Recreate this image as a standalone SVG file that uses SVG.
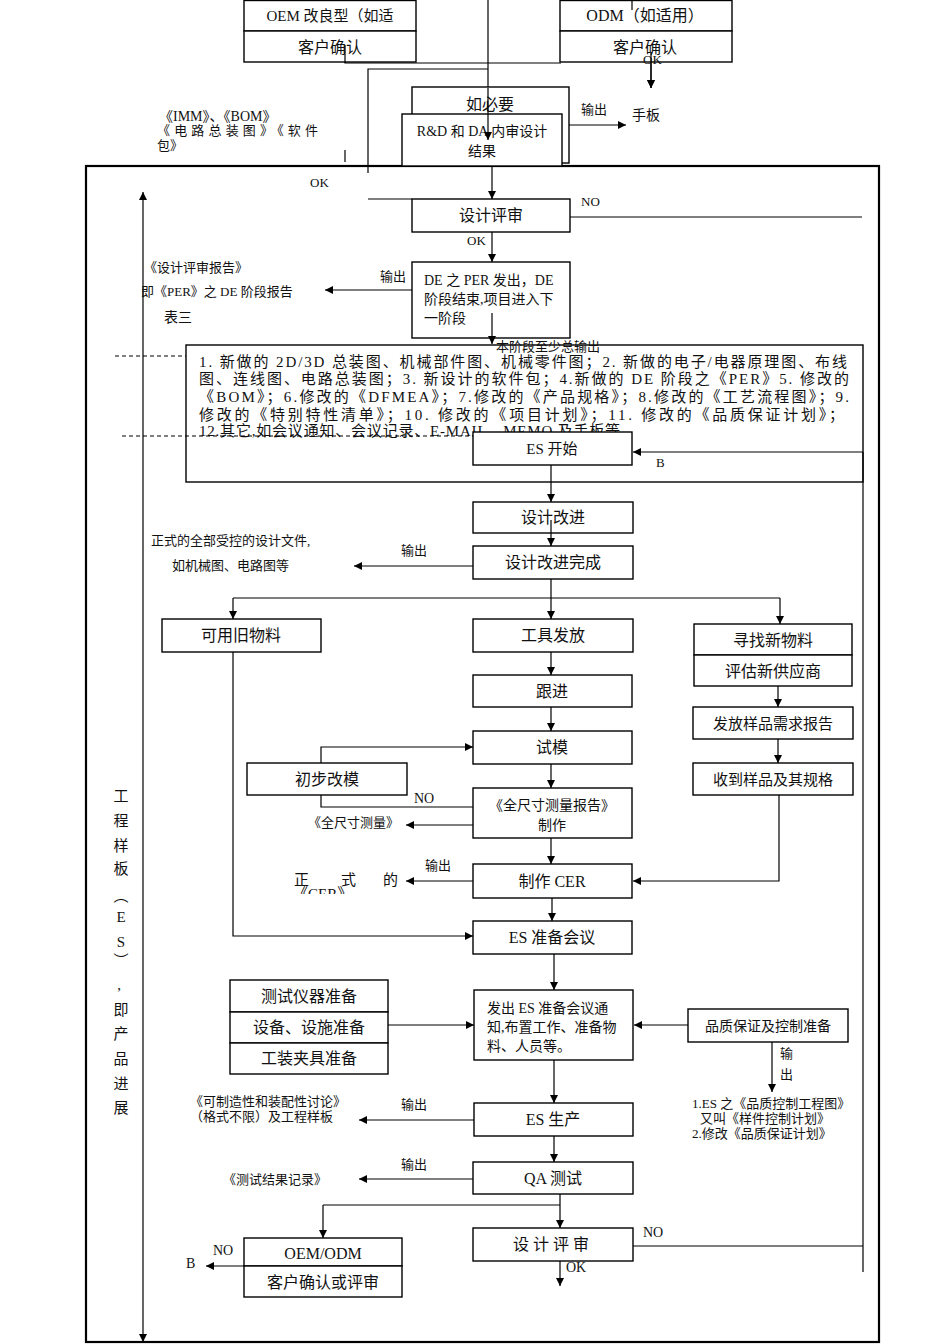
<svg xmlns="http://www.w3.org/2000/svg" width="950" height="1344" viewBox="0 0 950 1344">
<style>
.box{fill:#fff;stroke:#000;stroke-width:1.4}
.nf{fill:none;stroke:#000;stroke-width:1.4}
.ln{fill:none;stroke:#000;stroke-width:1.2}
.a{marker-end:url(#ah)}
.dash{fill:none;stroke:#000;stroke-width:1.1;stroke-dasharray:4 3}
text{font-family:"Liberation Serif","Noto Sans CJK SC",serif;fill:#111;font-size:15px}
.c{text-anchor:middle}
.s{font-size:13px}
.m{font-size:14px}
.l{font-size:16px}
</style>
<defs>
<marker id="ah" viewBox="0 0 10 10" refX="10" refY="5" markerWidth="9" markerHeight="8" markerUnits="userSpaceOnUse" orient="auto"><path d="M0,0 L10,5 L0,10 z" fill="#000"/></marker>
<marker id="ahs" viewBox="0 0 10 10" refX="10" refY="5" markerWidth="9" markerHeight="8" markerUnits="userSpaceOnUse" orient="auto-start-reverse"><path d="M0,0 L10,5 L0,10 z" fill="#000"/></marker>
<clipPath id="cerclip"><rect x="280" y="880" width="130" height="14"/></clipPath>
</defs>

<rect x="86" y="166" width="793" height="1176" fill="none" stroke="#000" stroke-width="2.2"/>

<g id="connectors">
<path class="ln a" d="M488,0 V140"/>
<path class="ln" d="M345,45 V63 H561"/>
<path class="ln" d="M632,0 V10"/>
<path class="ln a" d="M651,52 V88"/>
<path class="ln" d="M488,69 H368 V173"/>
<path class="ln" d="M345,150 V162"/>
<path class="ln a" d="M562,125 H626"/>
<path class="ln a" d="M492,166 V199"/>
<path class="ln" d="M368,199 H412"/>
<path class="ln" d="M570,217 H862"/>
<path class="ln a" d="M492,232 V262"/>
<path class="ln a" d="M412,290 H325"/>
<path class="dash" d="M115,356 H186"/>
<path class="ln" d="M863,452 V1272"/>
<path class="ln a" d="M863,452 H633"/>
<path class="ln a" d="M551,465 V502"/>
<path class="ln a" d="M473,566 H354"/>
<path class="ln" d="M551,579 V598 M233,598 H780"/>
<path class="ln a" d="M233,598 V619"/>
<path class="ln a" d="M551,598 V619"/>
<path class="ln a" d="M780,598 V624"/>
<path class="ln a" d="M551,652 V675"/>
<path class="ln a" d="M551,707 V731"/>
<path class="ln a" d="M551,764 V788"/>
<path class="ln a" d="M321,763 V747 H473"/>
<path class="ln" d="M473,807 H321 V795"/>
<path class="ln a" d="M473,825 H406"/>
<path class="ln a" d="M551,838 V864"/>
<path class="ln a" d="M473,881 H406"/>
<path class="ln a" d="M778,686 V707"/>
<path class="ln a" d="M778,739 V763"/>
<path class="ln a" d="M779,795 V881 H633"/>
<path class="ln a" d="M233,652 V936 H473"/>
<path class="ln a" d="M552,898 V921"/>
<path class="ln a" d="M554,954 V990"/>
<path class="ln a" d="M388,1025 H474"/>
<path class="ln a" d="M688,1025 H634"/>
<path class="ln a" d="M772,1042 V1092"/>
<path class="ln a" d="M554,1060 V1103"/>
<path class="ln a" d="M474,1120 H359"/>
<path class="ln a" d="M554,1136 V1162"/>
<path class="ln a" d="M473,1179 H359"/>
<path class="ln" d="M560,1194 V1205 M323,1205 H560"/>
<path class="ln a" d="M323,1205 V1238"/>
<path class="ln a" d="M560,1205 V1228"/>
<path class="ln" d="M633,1246 H863"/>
<path class="ln a" d="M560,1261 V1286"/>
<path class="ln a" d="M244,1266 H206"/>
<path class="ln" d="M143,1342 V192" marker-start="url(#ahs)" marker-end="url(#ah)"/>
</g>

<g id="oem">
<rect class="box" x="244" y="0.5" width="172" height="30.5"/>
<rect class="box" x="244" y="31" width="172" height="31"/>
<text class="c" x="330" y="21">OEM 改良型（如适</text>
<text class="c l" x="330" y="53">客户确认</text>
</g>
<path class="ln" d="M345,45 V63"/>

<g id="odm">
<rect class="box" x="560" y="0.5" width="172" height="30.5"/>
<rect class="box" x="560" y="31" width="172" height="31"/>
<text class="c l" x="645" y="21">ODM（如适用）</text>
<text class="c l" x="645" y="53">客户确认</text>
</g>
<path class="ln" d="M632,0 V10"/>
<path class="ln a" d="M651,52 V88"/>
<text class="s" x="643" y="64">OK</text>

<g id="rd">
<rect class="box" x="412" y="87" width="157" height="76"/>
<text class="c l" x="490" y="110">如必要</text>
<rect class="box" x="402" y="114" width="160" height="52"/>
<text class="c m" x="482" y="136">R&amp;D 和 DA 内审设计</text>
<text class="c m" x="482" y="156">结果</text>
</g>
<path class="ln a" d="M488,88 V140"/>

<g id="labels-top">
<text class="m" x="159" y="121">《IMM》、《BOM》</text>
<text class="s" x="157" y="135" textLength="161" lengthAdjust="spacing">《电路总装图》《软件</text>
<text class="s" x="157" y="150">包》</text>
<text class="s" x="581" y="114">输出</text>
<text class="m" x="632" y="120">手板</text>
<text class="s" x="310" y="187">OK</text>
<text class="s" x="581" y="206">NO</text>
<text class="s" x="467" y="245">OK</text>
</g>

<g id="review1">
<rect class="box" x="412" y="199" width="158" height="33"/>
<text class="c l" x="491" y="221">设计评审</text>
</g>

<g id="de">
<rect class="box" x="412" y="262" width="158" height="76"/>
<text class="m" x="424" y="285">DE 之 PER 发出，DE</text>
<text class="m" x="424" y="304">阶段结束,项目进入下</text>
<text class="m" x="424" y="323">一阶段</text>
</g>
<path class="ln a" d="M492,313 V344"/>

<g id="de-out">
<text class="s" x="144" y="272">《设计评审报告》</text>
<text class="s" x="141" y="296">即《PER》之 DE 阶段报告</text>
<text class="m" x="164" y="322">表三</text>
<text class="s" x="380" y="281">输出</text>
</g>

<g id="summary">
<rect class="nf" x="186" y="345" width="677" height="137"/>
<text class="s" x="496" y="351">本阶段至少总输出</text>
<text x="199" y="367" textLength="648" lengthAdjust="spacing">1. 新做的 2D/3D 总装图、机械部件图、机械零件图；2.  新做的电子/电器原理图、布线</text>
<text x="199" y="384" textLength="650" lengthAdjust="spacing">图、连线图、电路总装图；3.  新设计的软件包；4.新做的 DE 阶段之《PER》5.  修改的</text>
<text x="199" y="402" textLength="650" lengthAdjust="spacing">《BOM》；6.修改的《DFMEA》；7.修改的《产品规格》；8.修改的《工艺流程图》；9.</text>
<text x="199" y="420" textLength="645" lengthAdjust="spacing">修改的《特别特性清单》；10.  修改的《项目计划》；11.  修改的《品质保证计划》；</text>
<text x="199" y="436" textLength="421" lengthAdjust="spacing">12.其它,如会议通知、会议记录、E-MAIL、MEMO 及手板等</text>
</g>
<path class="dash" d="M122,436 H473"/>

<g id="es-start">
<rect class="box" x="473" y="432" width="159" height="33"/>
<text class="c" x="552" y="454">ES 开始</text>
<text class="s" x="656" y="467">B</text>
</g>

<g id="improve">
<rect class="box" x="473" y="502" width="160" height="31"/>
<text class="c l" x="553" y="523">设计改进</text>
</g>
<path class="ln a" d="M551,520 V546"/>

<g id="improve-done">
<rect class="box" x="473" y="546" width="160" height="33"/>
<text class="c l" x="553" y="568">设计改进完成</text>
<text class="s" x="401" y="555">输出</text>
<text class="s" x="151" y="545">正式的全部受控的设计文件,</text>
<text class="s" x="172" y="570">如机械图、电路图等</text>
</g>

<g id="old-mat">
<rect class="box" x="162" y="619" width="159" height="33"/>
<text class="c l" x="241" y="641">可用旧物料</text>
</g>

<g id="tool">
<rect class="box" x="473" y="619" width="160" height="33"/>
<text class="c l" x="553" y="641">工具发放</text>
</g>

<g id="new-mat">
<rect class="box" x="694" y="624" width="158" height="31"/>
<rect class="box" x="694" y="655" width="158" height="31"/>
<text class="c l" x="773" y="646">寻找新物料</text>
<text class="c l" x="773" y="677">评估新供应商</text>
</g>

<g id="follow">
<rect class="box" x="473" y="675" width="159" height="32"/>
<text class="c l" x="552" y="697">跟进</text>
</g>

<g id="trial">
<rect class="box" x="473" y="731" width="159" height="33"/>
<text class="c l" x="552" y="753">试模</text>
</g>

<g id="prelim">
<rect class="box" x="247" y="763" width="160" height="32"/>
<text class="c l" x="327" y="785">初步改模</text>
<text class="m" x="414" y="803">NO</text>
</g>

<g id="measure">
<rect class="box" x="473" y="788" width="159" height="50"/>
<text class="c m" x="552" y="810">《全尺寸测量报告》</text>
<text class="c m" x="552" y="830">制作</text>
<text class="s" x="308" y="827">《全尺寸测量》</text>
</g>

<g id="sample-req">
<rect class="box" x="693" y="707" width="160" height="32"/>
<text class="c" x="773" y="729">发放样品需求报告</text>
</g>

<g id="sample-recv">
<rect class="box" x="693" y="763" width="160" height="32"/>
<text class="c" x="773" y="785">收到样品及其规格</text>
</g>

<g id="cer">
<rect class="box" x="473" y="864" width="159" height="34"/>
<text class="c l" x="552" y="887">制作 CER</text>
<text class="s" x="425" y="870">输出</text>
<text x="294" y="885">正</text>
<text x="341" y="885">式</text>
<text x="383" y="885">的</text>
<text x="293" y="899" clip-path="url(#cerclip)">《CER》</text>
</g>

<g id="es-meet">
<rect class="box" x="473" y="921" width="159" height="33"/>
<text class="c l" x="552" y="943">ES 准备会议</text>
</g>

<g id="prep">
<rect class="box" x="230" y="980" width="158" height="32"/>
<rect class="box" x="230" y="1012" width="158" height="31"/>
<rect class="box" x="230" y="1043" width="158" height="31"/>
<text class="c l" x="309" y="1002">测试仪器准备</text>
<text class="c l" x="309" y="1033">设备、设施准备</text>
<text class="c l" x="309" y="1064">工装夹具准备</text>
</g>

<g id="notice">
<rect class="box" x="474" y="990" width="159" height="70"/>
<text class="m" x="487" y="1013">发出 ES 准备会议通</text>
<text class="m" x="487" y="1032">知,布置工作、准备物</text>
<text class="m" x="487" y="1051">料、人员等。</text>
</g>

<g id="qa-prep">
<rect class="box" x="688" y="1009" width="160" height="33"/>
<text class="c m" x="768" y="1031">品质保证及控制准备</text>
<text class="s" x="780" y="1058">输</text>
<text class="s" x="780" y="1079">出</text>
<text class="s" x="692" y="1108">1.ES 之《品质控制工程图》</text>
<text class="s" x="700" y="1123">又叫《样件控制计划》</text>
<text class="s" x="692" y="1138">2.修改《品质保证计划》</text>
</g>

<g id="es-prod">
<rect class="box" x="474" y="1103" width="159" height="33"/>
<text class="c l" x="553" y="1125">ES 生产</text>
<text class="s" x="401" y="1109">输出</text>
<text class="s" x="190" y="1106">《可制造性和装配性讨论》</text>
<text class="s" x="190" y="1121">（格式不限）及工程样板</text>
</g>

<g id="qa-test">
<rect class="box" x="473" y="1162" width="160" height="32"/>
<text class="c l" x="553" y="1184">QA 测试</text>
<text class="s" x="401" y="1169">输出</text>
<text class="s" x="223" y="1184">《测试结果记录》</text>
</g>

<g id="review2">
<rect class="box" x="473" y="1228" width="160" height="33"/>
<text class="c l" x="553" y="1250" letter-spacing="4">设计评审</text>
<text class="m" x="643" y="1237">NO</text>
<text class="m" x="566" y="1272">OK</text>
</g>

<g id="oem-odm">
<rect class="box" x="244" y="1238" width="158" height="28"/>
<rect class="box" x="244" y="1266" width="158" height="31"/>
<text class="c l" x="323" y="1259">OEM/ODM</text>
<text class="c l" x="323" y="1288">客户确认或评审</text>
<text class="m" x="213" y="1255">NO</text>
<text class="m" x="186" y="1268">B</text>
</g>

<g id="side-label">
<text class="c" x="121" y="801"><tspan x="121" y="801">工</tspan><tspan x="121" y="826">程</tspan><tspan x="121" y="851">样</tspan><tspan x="121" y="874">板</tspan><tspan x="121" y="901">︵</tspan><tspan x="121" y="922">E</tspan><tspan x="121" y="947">S</tspan><tspan x="121" y="966">︶</tspan><tspan x="119" y="990">,</tspan><tspan x="121" y="1015">即</tspan><tspan x="121" y="1039">产</tspan><tspan x="121" y="1064">品</tspan><tspan x="121" y="1089">进</tspan><tspan x="121" y="1113">展</tspan></text>
</g>
</svg>
